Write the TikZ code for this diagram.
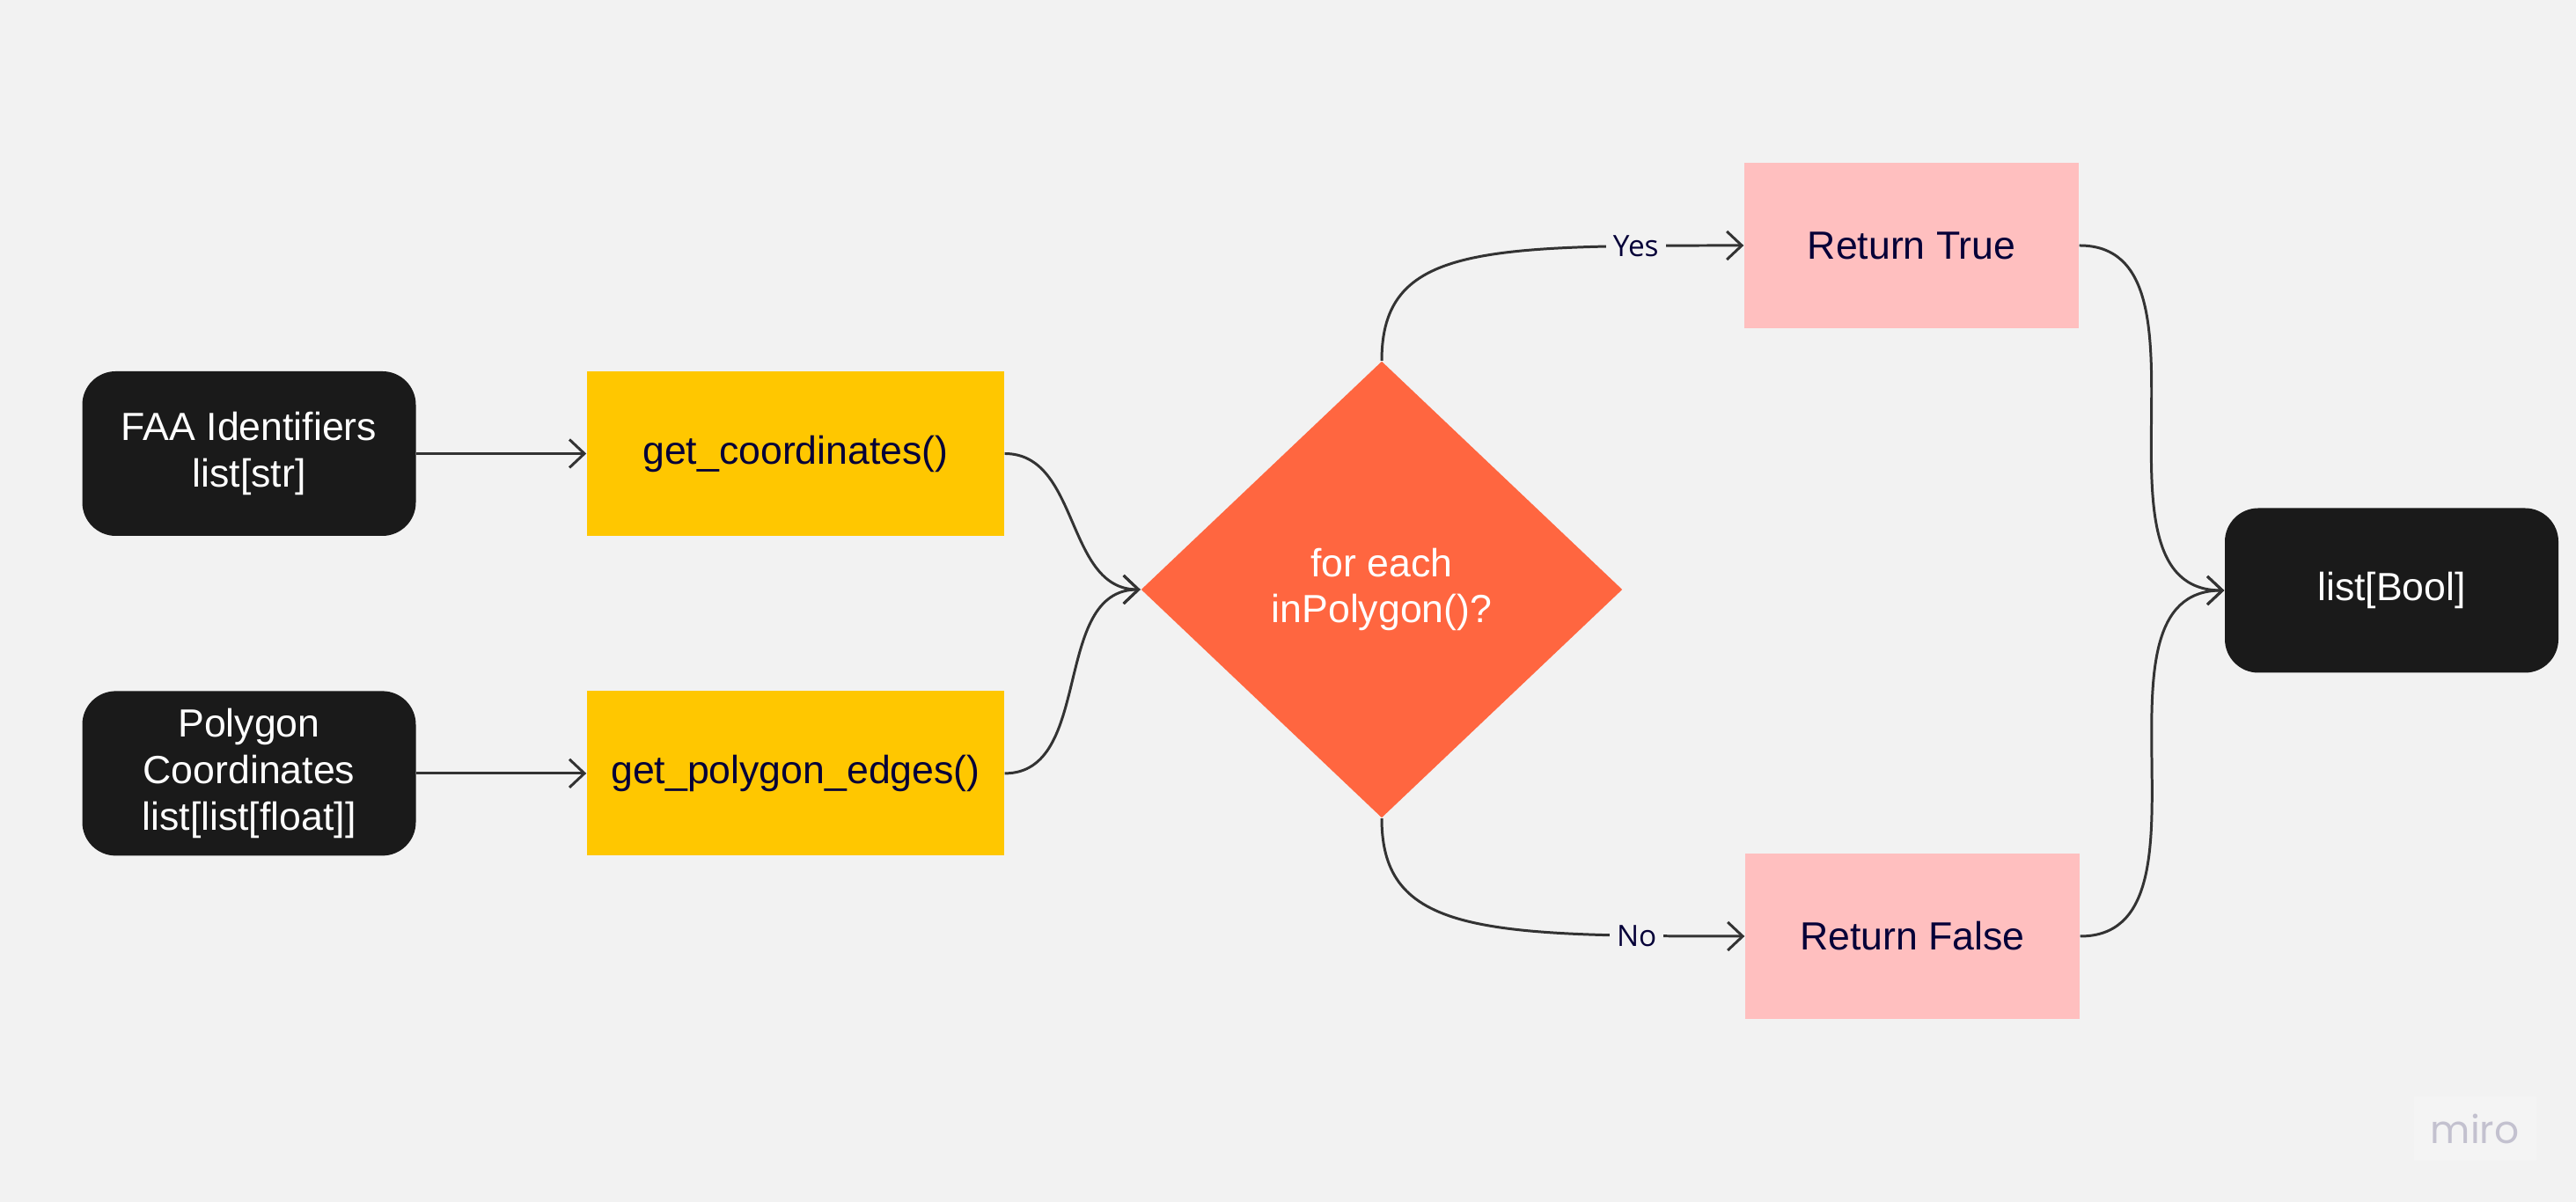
\documentclass[tikz,border=0pt]{standalone}
\usepackage{fontspec}
\setmainfont{Liberation Sans}
\newfontfamily\lblfont{Open Sans}
\newfontfamily\logofont{Poppins}
\usepackage{tikz}
\usetikzlibrary{shapes.geometric,arrows.meta,positioning}
\definecolor{canvas}{HTML}{F2F2F2}
\definecolor{boxblack}{HTML}{1A1A1A}
\definecolor{fnyellow}{HTML}{FFC700}
\definecolor{choiceorange}{HTML}{FF6640}
\definecolor{retpink}{HTML}{FFBFBF}
\definecolor{ink}{HTML}{050038}
\definecolor{wire}{HTML}{333333}
\definecolor{logogray}{HTML}{C3C1CF}
\definecolor{logofill}{HTML}{F4F4F4}
\tikzset{
    node distance =1.75cm and 1.93cm,
    font=\fontsize{12.7}{15}\selectfont,
    flow/.style = {-{Straight Barb[length=0.17cm,width=0.32cm]}, draw=wire, line width=0.85pt},
    iobox/.style = {rounded corners=0.38cm, fill=boxblack, text=white, align=center,
                    minimum width=3.79cm, minimum height=1.87cm, inner sep=0pt},
    fnbox/.style = {fill=fnyellow, text=ink, minimum width=4.74cm, minimum height=1.87cm, inner sep=0pt},
    retbox/.style = {fill=retpink, text=ink, minimum width=3.8cm, minimum height=1.88cm, inner sep=0pt},
    choice/.style = {diamond, fill=choiceorange, text=white, align=center,
                     minimum width=5.47cm, minimum height=5.19cm, inner sep=0pt},
    lbl/.style = {fill=canvas, text=ink, inner sep=2.3pt, font=\lblfont\fontsize{9.5}{11}\selectfont}
}

\begin{document}
\begin{tikzpicture}
        \fill[canvas] (0,0) rectangle (29.27,13.66);
        \useasboundingbox (0,0) rectangle (29.27,13.66);

        \node[iobox] (faa) at (2.83, 8.505) {FAA Identifiers\\list[str]};
        \node[iobox] (poly) [below =of faa] {Polygon\\Coordinates\\list[list[float]]};
        \node[fnbox] (coords) [right =of faa] {get\_coordinates()};
        \node[fnbox] (edges) [right =of poly] {get\_polygon\_edges()};
        \node[choice] (dec) at (15.70, 6.96) {for each\\inPolygon()?};
        \node[retbox] (rtrue) at (21.72, 10.87) {Return True};
        \node[retbox] (rfalse) at (21.73, 3.02) {Return False};
        \node[iobox] (bool) at (27.175, 6.95) {list[Bool]};

        \path (faa) edge[flow] (coords);
        \path (poly) edge[flow] (edges);
        \path (coords.east) edge[flow, out=0, in=180] (dec.west);
        \path (edges.east) edge[flow, out=0, in=180] (dec.west);
        \path (dec.north) edge[flow, out=90, in=180, out distance=1.3cm, in distance=3cm]
            node[lbl, pos=0.85] {Yes} (rtrue.west);
        \path (dec.south) edge[flow, out=-90, in=180, out distance=1.3cm, in distance=3cm]
            node[lbl, pos=0.85] {No} (rfalse.west);
        \path (rtrue.east) edge[flow, out=0, in=180] (bool.west);
        \path (rfalse.east) edge[flow, out=0, in=180] (bool.west);

        \node[fill=logofill, text=logogray, minimum width=1.39cm, minimum height=0.73cm,
              font=\logofont\fontsize{12.5}{14}\selectfont] (logo) at (28.12, 0.83) {miro};
\end{tikzpicture}
\end{document}
